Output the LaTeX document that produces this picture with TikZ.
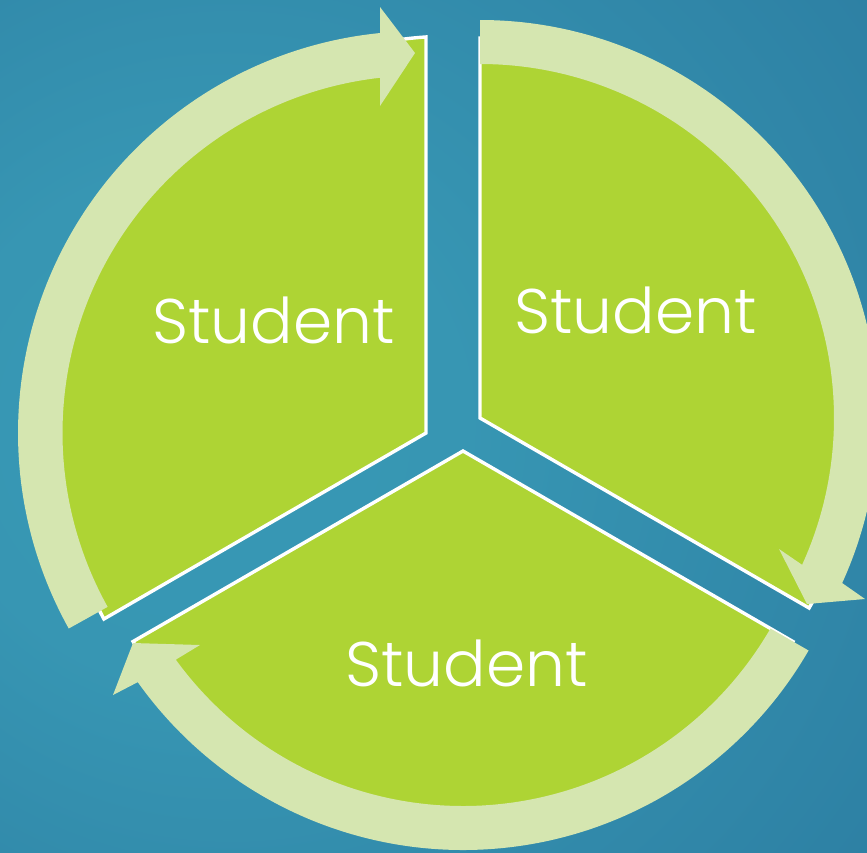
\documentclass[tikz,border=0pt]{standalone}
\usepackage{fontspec}
\setmainfont{Poppins}
\newfontfamily\studentfont{Poppins}[UprightFont={* Light}]
\usetikzlibrary{calc}
\definecolor{wedgegreen}{RGB}{174,212,52}
\definecolor{arrowgreen}{RGB}{213,230,176}
\definecolor{bgA}{RGB}{56,153,181}
\definecolor{bgB}{RGB}{55,150,179}
\definecolor{bgC}{RGB}{46,130,165}
\definecolor{bgD}{RGB}{37,109,150}
\definecolor{bgE}{RGB}{31,96,141}
\pgfdeclareradialshading{bgsh}{\pgfpoint{-16bp}{0bp}}{color(0bp)=(bgA); color(15bp)=(bgB); color(40bp)=(bgC); color(65bp)=(bgD); color(90bp)=(bgE)}
\begin{document}
\begin{tikzpicture}[x=1pt,y=-1pt,
  wedgeshape/.style={fill=wedgegreen, draw=white, line width=3.4pt, line join=miter},
  cyclearrow/.style={fill=arrowgreen, draw=none},
  studenttext/.style={text=white, font=\studentfont\fontsize{63}{63}\selectfont, anchor=base, inner sep=0pt}]
\useasboundingbox (0,0) rectangle (867,852);
\shade[shading=bgsh] (0,0) rectangle (867,852);
% centres
\coordinate (cTL) at (426,433);
\coordinate (cTR) at (480,418);
\coordinate (cB) at (463,451);
\coordinate (aTL) at (420,433);
% wedges
\draw[wedgeshape] (cTL) -- (103.9,619) arc[start angle=151.82, end angle=266.09, radius=396] -- cycle;
\draw[wedgeshape] (cTR) -- ++(-90:380) arc[start angle=-90, end angle=30, radius=380] -- cycle;
\draw[wedgeshape] (cB) -- ++(30:381) arc[start angle=30, end angle=150, radius=381] -- cycle;
% arrows
\fill[cyclearrow] ($(aTL)+(150.9:402)$) arc[start angle=150.9, end angle=264.3, radius=402]
  -- (380,7) -- (415,53) -- (380,106)
  -- ($(aTL)+(263.6:357.5)$) arc[start angle=263.6, end angle=150.9, radius=357.5] -- cycle;
\fill[cyclearrow] ($(cTR)+(-90:398)$) arc[start angle=-90, end angle=24.5, radius=398]
  -- (865,599) -- (807,604) -- (779,549)
  -- ($(cTR)+(24.5:354)$) arc[start angle=24.5, end angle=-90, radius=354] -- cycle;
\fill[cyclearrow] ($(cB)+(30:399)$) arc[start angle=30, end angle=144.6, radius=399]
  -- (113,695) -- (133,643) -- (200,645)
  -- ($(cB)+(144.0:355)$) arc[start angle=144.0, end angle=30, radius=355] -- cycle;
% labels
\node[studenttext] (s1) at (273.5,343) {Student};
\node[studenttext] (s2) at (635.5,333) {Student};
\node[studenttext] (s3) at (466.5,686) {Student};
\end{tikzpicture}
\end{document}
